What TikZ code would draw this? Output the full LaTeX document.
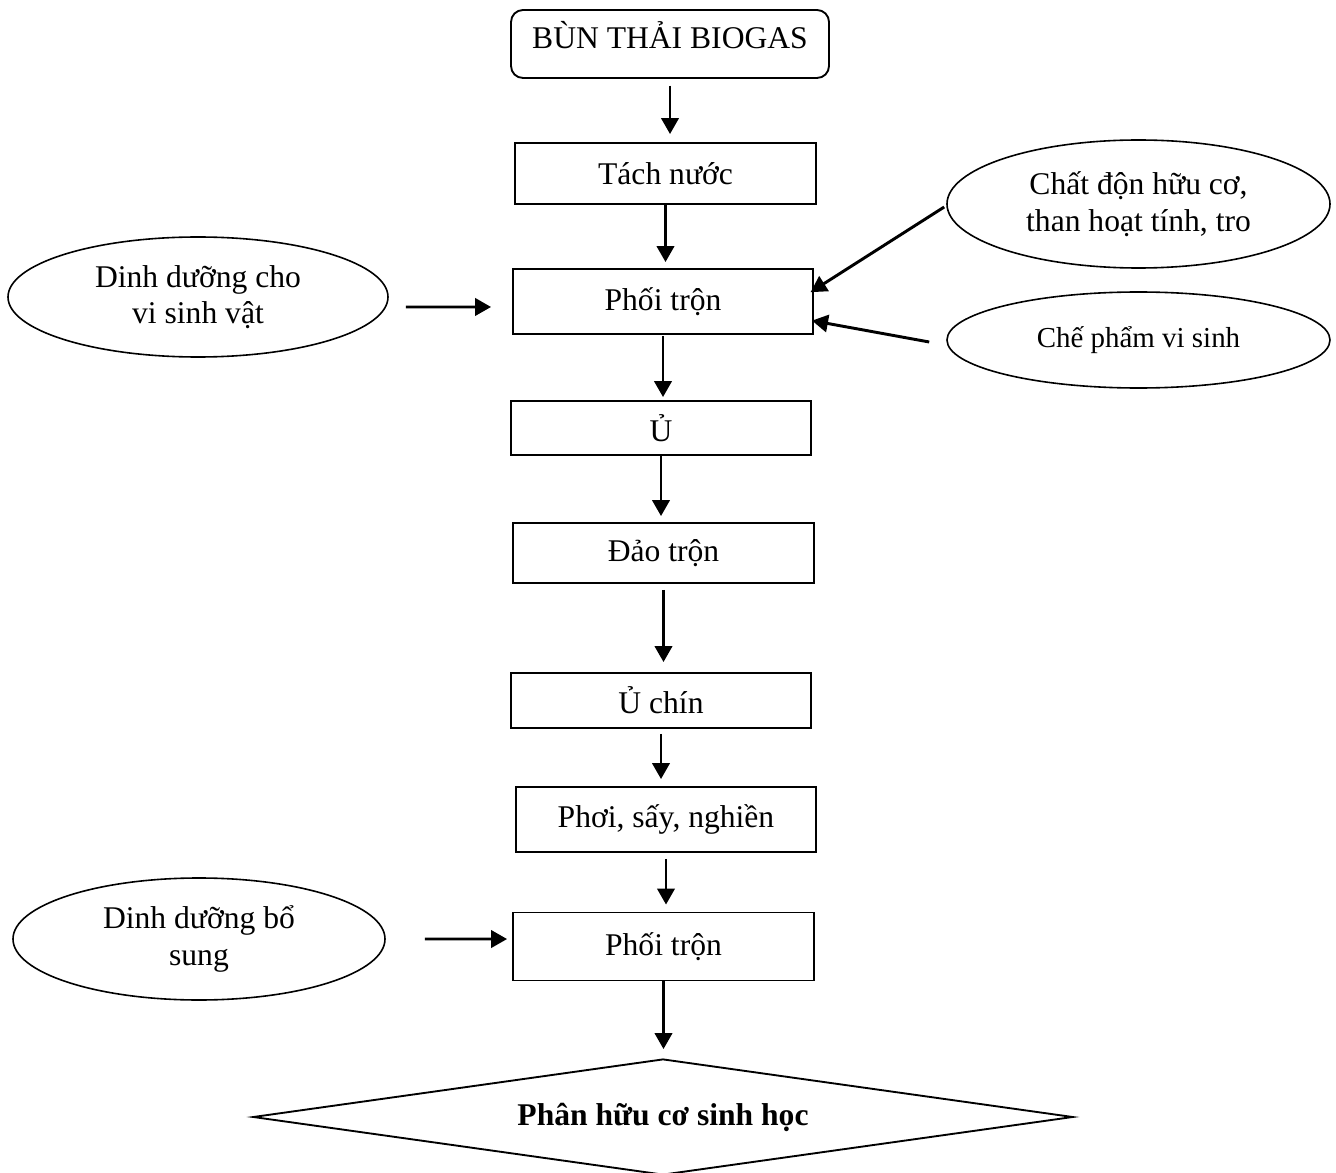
\documentclass[tikz,border=0pt]{standalone}
\usepackage{fontspec}
\setmainfont{Liberation Serif}
\usetikzlibrary{shapes.geometric,arrows.meta}
\begin{document}
\begin{tikzpicture}[x=0.75pt,y=-0.75pt,
  txt/.style={font=\fontsize{23.7}{27.5}\selectfont, align=center, inner sep=0pt},
  stepbox/.style={txt, draw, line width=1.4pt, rectangle},
  oval/.style={txt, draw, line width=1.2pt, ellipse},
  arr/.style={line width=2.2pt, -{Triangle[length=12pt,width=13pt]}}
]
\useasboundingbox (0,0) rectangle (1336,1173);
% main chain
\node[stepbox, rounded corners=9pt, minimum width=238.5pt, minimum height=51pt, text depth=14pt] (top) at (670,44) {BÙN THẢI BIOGAS};
\node[stepbox, minimum width=225.75pt, minimum height=45.75pt] (tach) at (665.5,173.5) {Tách nước};
\node[stepbox, minimum width=225pt, minimum height=48.75pt] (phoi1) at (663,301.5) {Phối trộn};
\node[stepbox, minimum width=225pt, minimum height=40.5pt] (u) at (661,428) {Ủ};
\node[stepbox, minimum width=225.75pt, minimum height=45pt] (dao) at (663.5,553) {Đảo trộn};
\node[stepbox, minimum width=225pt, minimum height=41.25pt] (uchin) at (661,700.5) {Ủ chín};
\node[stepbox, minimum width=225pt, minimum height=48.75pt] (phoi) at (666,819.5) {Phơi, sấy, nghiền};
\node[stepbox, minimum width=225.75pt, minimum height=51pt] (phoi2) at (663.5,946.5) {Phối trộn};
\node[txt, draw, line width=1.4pt, diamond, aspect=7.07, minimum width=615pt, minimum height=87pt, font=\fontsize{23.7}{27.5}\selectfont\bfseries] (sp) at (663,1117) {Phân hữu cơ sinh học};
% side inputs
\node[oval, minimum width=285pt, minimum height=90pt] (dd1) at (198,297) {Dinh dưỡng cho\\vi sinh vật};
\node[oval, minimum width=287.25pt, minimum height=96pt] (chat) at (1138.5,204) {Chất độn hữu cơ,\\than hoạt tính, tro};
\node[oval, minimum width=287.25pt, minimum height=72pt, font=\fontsize{21.7}{26}\selectfont] (che) at (1138.5,340) {Chế phẩm vi sinh};
\node[oval, minimum width=279pt, minimum height=91.5pt] (dd2) at (199,939) {Dinh dưỡng bổ\\sung};
% vertical arrows
\draw[arr, shorten <=5pt, shorten >=6pt] (top.south) -- (top.south |- tach.north);
\draw[arr, shorten >=4.5pt] (tach.south) -- (tach.south |- phoi1.north);
\draw[arr, shorten <=0.75pt, shorten >=2.25pt] (phoi1.south) -- (phoi1.south |- u.north);
\draw[arr, shorten >=4.5pt] (u.south) -- (u.south |- dao.north);
\draw[arr, shorten <=4.5pt, shorten >=7.5pt] (dao.south) -- (dao.south |- uchin.north);
\draw[arr, shorten <=3.75pt, shorten >=5.25pt] (uchin.south) -- (uchin.south |- phoi.north);
\draw[arr, shorten <=4.5pt, shorten >=5.25pt] (phoi.south) -- (phoi.south |- phoi2.north);
\draw[arr, shorten >=6.75pt] (phoi2.south) -- (phoi2.south |- sp.north);
% side arrows
\draw[arr, shorten <=12.75pt, shorten >=15.75pt] ([yshift=-7.5pt]dd1.east) -- ([yshift=-4.1pt]phoi1.west);
\draw[arr, shorten <=29.25pt, shorten >=3.75pt] (dd2.east) -- ([yshift=5.6pt]phoi2.west);
\draw[arr, shorten >=-3pt] ([xshift=-1.5pt,yshift=-2.25pt]chat.west) -- ([yshift=8.6pt]phoi1.east);
\draw[arr, shorten >=-1.5pt] ([xshift=-12.75pt,yshift=-1.5pt]che.west) -- ([yshift=-14.6pt]phoi1.east);
\end{tikzpicture}
\end{document}
